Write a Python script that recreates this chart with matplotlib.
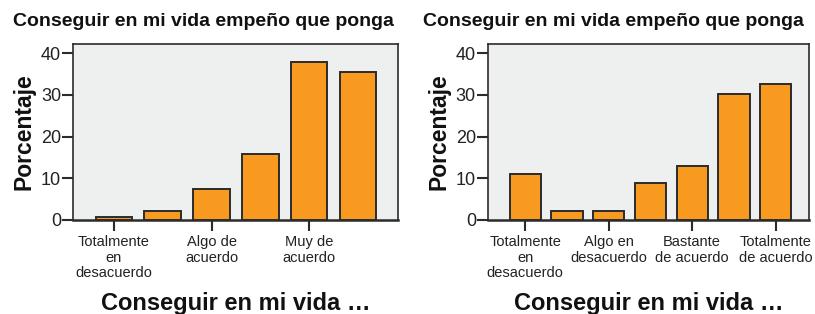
import matplotlib
matplotlib.use("Agg")
import matplotlib.pyplot as plt

plt.rcParams['font.family'] = ['Liberation Sans', 'DejaVu Sans']

title = "Conseguir en mi vida empeño que ponga"
xlabel = "Conseguir en mi vida …"
ylabel = "Porcentaje"

left_values = [0.7, 2.2, 7.5, 15.8, 37.9, 35.6]
left_tick_pos = [0, 2, 4]
left_tick_labels = ["Totalmente\nen\ndesacuerdo", "Algo de\nacuerdo", "Muy de\nacuerdo"]

right_values = [11.0, 2.2, 2.2, 8.8, 13.0, 30.3, 32.5]
right_tick_pos = [0, 2, 4, 6]
right_tick_labels = ["Totalmente\nen\ndesacuerdo", "Algo en\ndesacuerdo",
                     "Bastante\nde acuerdo", "Totalmente\nde acuerdo"]

yticks = [0, 10, 20, 30, 40]

BAR = '#f89a1f'
EDGE = '#2b2b2b'
BG = '#eef0ef'

fig = plt.figure(figsize=(8.15, 3.14), dpi=100)

def panel(rect, values, tpos, tlabels, xlim, title_x):
    ax = fig.add_axes(rect)
    ax.set_facecolor(BG)
    ax.bar(range(len(values)), values, width=0.75, color=BAR,
           edgecolor=EDGE, linewidth=1.4, zorder=3)
    ax.set_xlim(*xlim)
    ax.set_ylim(0, 42.2)
    ax.set_yticks(yticks)
    ax.set_xticks(tpos)
    ax.set_xticklabels(tlabels, fontsize=10.5, linespacing=1.12)
    ax.tick_params(axis='y', length=8, width=1.5, color=EDGE, labelsize=13, pad=0.5, labelcolor='#222222')
    ax.tick_params(axis='x', length=8, width=1.5, color=EDGE, pad=3, labelcolor='#222222')
    for s in ax.spines.values():
        s.set_color(EDGE)
        s.set_linewidth(1.2)
    ax.spines['bottom'].set_linewidth(1.8)
    ax.set_ylabel(ylabel, fontsize=16.5, fontweight='bold', labelpad=4, color='#111111')
    ax.set_xlabel(xlabel, fontsize=17, fontweight='bold', labelpad=9, color='#111111')
    fig.text(title_x, 1 - 21 / 314, title, fontsize=14, fontweight='bold',
             ha='center', va='center', color='#111111')
    return ax

ax1 = panel([73 / 815, 1 - 220 / 314, 325 / 815, 176 / 314], left_values,
            left_tick_pos, left_tick_labels, (-0.84, 5.82), 203.5 / 815)
ax2 = panel([487.7 / 815, 1 - 220 / 314, 321.3 / 815, 176 / 314], right_values,
            right_tick_pos, right_tick_labels, (-0.9, 6.8), 613.5 / 815)

fig.savefig('out.png', dpi=100)
